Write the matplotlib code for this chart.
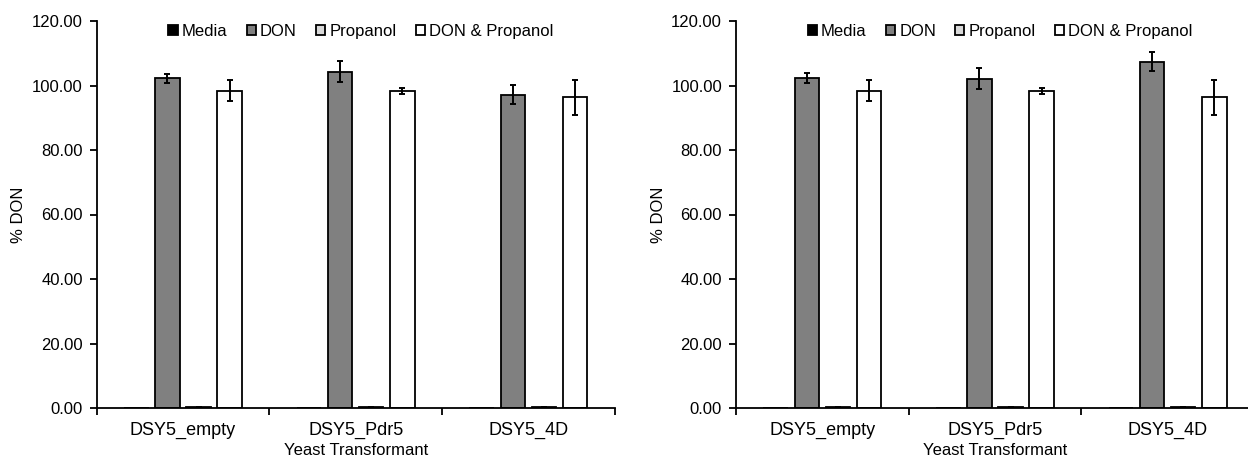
import numpy as np
import matplotlib
matplotlib.use('Agg')
import matplotlib.pyplot as plt

plt.rcParams['font.family'] = ['Liberation Sans', 'DejaVu Sans']

# ── data ────────────────────────────────────────────────────────────────────
strains = ["DSY5_empty", "DSY5_Pdr5", "DSY5_4D"]
treatments = ["Media", "DON", "Propanol", "DON & Propanol"]
colors = ["#000000", "#808080", "#d9d9d9", "#ffffff"]

# panel A
left_vals = [[0.0, 0.0, 0.0],
             [102.2, 104.3, 97.2],
             [0.3, 0.3, 0.3],
             [98.4, 98.4, 96.3]]
left_err = [[0.0, 0.0, 0.0],
            [1.4, 3.2, 3.0],
            [0.1, 0.1, 0.1],
            [3.2, 0.9, 5.5]]

# panel B
right_vals = [[0.0, 0.0, 0.0],
              [102.4, 102.1, 107.4],
              [0.3, 0.3, 0.3],
              [98.4, 98.4, 96.3]]
right_err = [[0.0, 0.0, 0.0],
             [1.5, 3.2, 2.9],
             [0.1, 0.1, 0.1],
             [3.2, 0.9, 5.5]]

yticks = [0, 20, 40, 60, 80, 100, 120]

W, H = 1248, 459
fig = plt.figure(figsize=(W / 100, H / 100), dpi=100)


def draw_panel(ax, vals, errs):
    x = np.arange(len(strains))
    slot, width = 0.18, 0.142
    for i, name in enumerate(treatments):
        off = (i - 1.5) * slot
        ax.bar(x + off, vals[i], width=width, color=colors[i],
               edgecolor='black', linewidth=1.3, label=name, zorder=2)
        if i > 0:
            ax.errorbar(x + off, vals[i], yerr=errs[i], fmt='none',
                        ecolor='black', elinewidth=1.4, capsize=2.5,
                        capthick=1.4, zorder=3)
    ax.set_xlim(-0.5, len(strains) - 0.5)
    ax.set_ylim(0, 120)
    ax.set_yticks(yticks)
    ax.set_yticklabels([f"{v:.2f}" for v in yticks])
    ax.set_xticks(x)
    ax.set_xticklabels(strains)
    ax.set_xticks(np.arange(len(strains) + 1) - 0.5, minor=True)
    ax.tick_params(axis='x', which='major', length=0, labelsize=13, pad=10)
    ax.tick_params(axis='x', which='minor', length=5, width=1.3, direction='out')
    ax.tick_params(axis='y', length=5, width=1.3, labelsize=12, direction='out', pad=5)
    for s in ['top', 'right']:
        ax.spines[s].set_visible(False)
    for s in ['left', 'bottom']:
        ax.spines[s].set_linewidth(1.3)
    ax.set_ylabel("% DON", fontsize=12, labelpad=4)
    ax.set_xlabel("Yeast Transformant", fontsize=12, labelpad=3)
    ax.legend(loc='center', bbox_to_anchor=(0.51, 0.972), ncol=4,
              frameon=False, fontsize=12, handlelength=0.55, handleheight=0.55,
              handletextpad=0.25, columnspacing=1.15)


bottom = 1 - 408 / H
height = (408 - 21) / H
ax1 = fig.add_axes([96.7 / W, bottom, 518 / W, height])
ax2 = fig.add_axes([736 / W, bottom, 518 / W, height])
draw_panel(ax1, left_vals, left_err)
draw_panel(ax2, right_vals, right_err)

fig.savefig("out.png", dpi=100)
